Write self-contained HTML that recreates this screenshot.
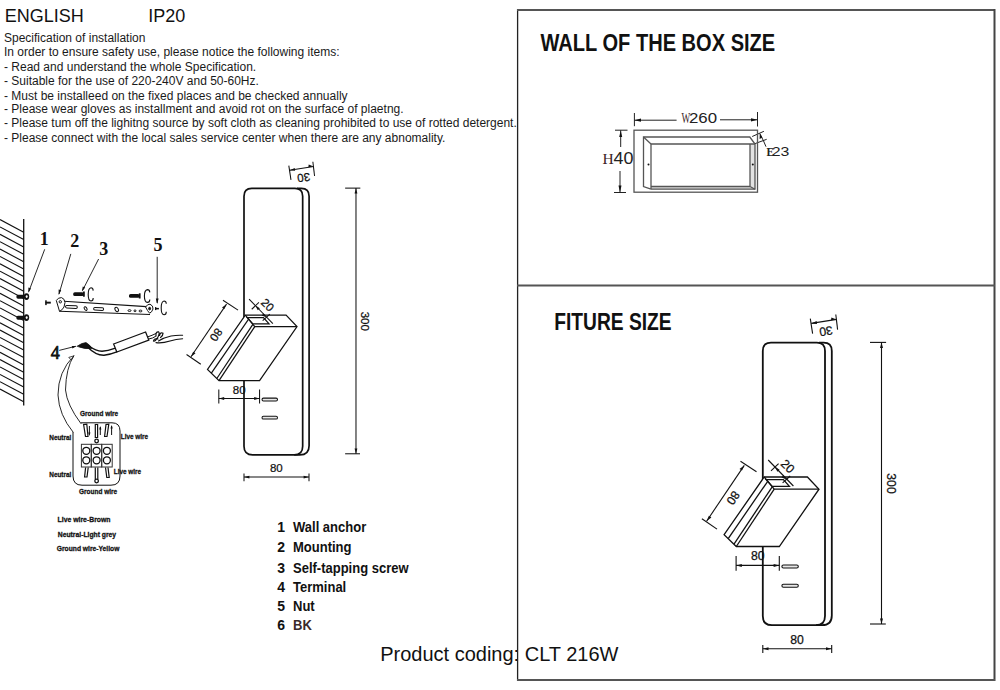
<!DOCTYPE html>
<html><head><meta charset="utf-8">
<style>
html,body{margin:0;padding:0;background:#fff;width:1000px;height:690px;overflow:hidden}
svg{position:absolute;left:0;top:0}
.s{font-family:"Liberation Sans",sans-serif}
.sf{font-family:"Liberation Serif",serif}
</style></head><body>
<svg width="1000" height="690" viewBox="0 0 1000 690">
<rect x="0" y="0" width="1000" height="690" fill="#fff"/>
<!-- header text -->
<g class="s" fill="#111">
<text x="4.8" y="21.6" font-size="18">ENGLISH</text>
<text x="148.3" y="21.6" font-size="18">IP20</text>
<g font-size="12" fill="#1a1a1a">
<text x="4" y="41.5">Specification of installation</text>
<text x="4" y="55.7">In order to ensure safety use, please notice the following items:</text>
<text x="4" y="70.8">- Read and understand the whole Specification.</text>
<text x="4" y="84.7">- Suitable for the use of 220-240V and 50-60Hz.</text>
<text x="4" y="99.7">- Must be installeed on the fixed places and be checked annually</text>
<text x="4" y="113.4">- Please wear gloves as installment and avoid rot on the surface of plaetng.</text>
<text x="4" y="127.1">- Please tum off the lighitng source by soft cloth as cleaning prohibited to use of rotted detergent.</text>
<text x="4" y="142.1">- Please connect with the local sales service center when there are any abnomality.</text>
</g>
</g>

<!-- install diagram -->
<g fill="none" stroke="#111" stroke-width="1.1">
<line x1="23.7" y1="219" x2="23.7" y2="405.5" stroke-width="1.3"/>
<line x1="0" y1="219.6" x2="23.7" y2="232.2"/>
<line x1="0" y1="227.0" x2="23.7" y2="239.6"/>
<line x1="0" y1="234.3" x2="23.7" y2="246.9"/>
<line x1="0" y1="241.7" x2="23.7" y2="254.3"/>
<line x1="0" y1="249.1" x2="23.7" y2="261.7"/>
<line x1="0" y1="256.4" x2="23.7" y2="269.1"/>
<line x1="0" y1="263.8" x2="23.7" y2="276.4"/>
<line x1="0" y1="271.2" x2="23.7" y2="283.8"/>
<line x1="0" y1="278.6" x2="23.7" y2="291.2"/>
<line x1="0" y1="285.9" x2="23.7" y2="298.5"/>
<line x1="0" y1="293.3" x2="23.7" y2="305.9"/>
<line x1="0" y1="300.7" x2="23.7" y2="313.3"/>
<line x1="0" y1="308.0" x2="23.7" y2="320.6"/>
<line x1="0" y1="315.4" x2="23.7" y2="328.0"/>
<line x1="0" y1="322.8" x2="23.7" y2="335.4"/>
<line x1="0" y1="330.1" x2="23.7" y2="342.8"/>
<line x1="0" y1="337.5" x2="23.7" y2="350.1"/>
<line x1="0" y1="344.9" x2="23.7" y2="357.5"/>
<line x1="0" y1="352.3" x2="23.7" y2="364.9"/>
<line x1="0" y1="359.6" x2="23.7" y2="372.2"/>
<line x1="0" y1="367.0" x2="23.7" y2="379.6"/>
<line x1="0" y1="374.4" x2="23.7" y2="387.0"/>
<line x1="0" y1="381.7" x2="23.7" y2="394.3"/>
<line x1="0" y1="389.1" x2="23.7" y2="401.7"/>
</g>
<g class="sf" font-weight="bold" font-size="18" fill="#111">
<text x="39.8" y="244.8">1</text>
<text x="70.3" y="246.5">2</text>
<text x="99.2" y="254.6">3</text>
<text x="50.8" y="359" font-weight="normal" stroke="#111" stroke-width="0.7">4</text>
<text x="153.6" y="251">5</text>
</g>
<g fill="none" stroke="#111" stroke-width="0.9">
<line x1="44.7" y1="249.3" x2="28.8" y2="291.5"/>
<line x1="70.8" y1="253.9" x2="59" y2="294"/>
<line x1="98.6" y1="259" x2="82.5" y2="290.5"/>
<line x1="157.2" y1="256.8" x2="157.2" y2="303"/>
<line x1="59.2" y1="350.4" x2="75.5" y2="346.3"/>
</g>
<g fill="#111">
<polygon points="28.3,292.7 28.4,287.5 31,288.5"/>
<polygon points="58.7,295 58.6,289.6 61.2,290.3"/>
<polygon points="81.9,291.6 82.8,286.4 85.2,287.6"/>
<polygon points="157.2,304 155.8,298.5 158.6,298.5"/>
<polygon points="76.8,346 71.8,345.9 72.4,348.5"/>
<!-- wall screws -->
<rect x="16.4" y="294.8" width="8.5" height="3.9" rx="1.6"/>
<rect x="16.4" y="315.8" width="8.5" height="3.9" rx="1.6"/>
<!-- plate screws -->
<rect x="73.2" y="292.2" width="10.6" height="3.8" rx="1.6"/>
<rect x="83" y="291.5" width="1.8" height="5.2"/>
<rect x="129" y="294" width="10.6" height="3.8" rx="1.6"/>
<rect x="138.8" y="293.3" width="1.8" height="5.2"/>
<rect x="45.2" y="300.3" width="1.5" height="4.8"/><rect x="45.5" y="301.7" width="5.3" height="1.9"/>
<rect x="155" y="307.1" width="1.3" height="3"/><rect x="155.2" y="307.9" width="3.7" height="1.5"/>
</g>
<g fill="#111">
<ellipse cx="26.5" cy="296.6" rx="2.7" ry="3.4"/>
<ellipse cx="26.5" cy="317.6" rx="2.7" ry="3.4"/>
</g>
<g fill="#fff">
<ellipse cx="26.7" cy="296.6" rx="1" ry="1.3"/>
<ellipse cx="26.7" cy="317.6" rx="1" ry="1.3"/>
</g>
<g fill="none" stroke="#111" stroke-width="1">
<path d="M93.2,290.6 Q93.0,287.8 91.0,287.8 Q88.2,288.3 88.2,294.4 Q88.2,300.7 91.0,301 Q93.2,301 93.2,298" stroke-width="1.1"/>
<path d="M149.8,292.40000000000003 Q149.60000000000002,289.6 147.40000000000003,289.6 Q144.4,290.1 144.4,296.0 Q144.4,302.09999999999997 147.40000000000003,302.4 Q149.8,302.4 149.8,299.4" stroke-width="1.1"/>
<path d="M166.3,303.8 Q166.10000000000002,301 164.05,301 Q161.2,301.5 161.2,307.9 Q161.2,314.5 164.05,314.8 Q166.3,314.8 166.3,311.8" stroke-width="1.1"/>
<!-- plate -->
<path d="M63.8,301.2 L146.4,306.6 M59.4,311.2 L150,314.5" stroke-width="1.1"/>
<path d="M56.3,300.5 Q58,297.5 61.5,297.6 Q64.6,298.5 65,302.5 L64,307 Q62,310.5 59.5,311.3 Z" fill="#fff"/>
<circle cx="60.3" cy="301.8" r="1.2"/>
<path d="M145.6,307 Q147.5,304 150,304.2 Q153.4,305.5 153,309 Q151.8,312.5 149.6,313.2 Q147.4,311 145.6,307 Z" fill="#fff"/>
<ellipse cx="149.6" cy="308.6" rx="1" ry="1.3" fill="#111"/>
<rect x="65.5" y="305.6" width="11.8" height="2.6" rx="1.3" transform="rotate(3 71 307)"/>
<ellipse cx="85.6" cy="308.6" rx="1.2" ry="2" transform="rotate(-35 85.6 308.6)"/>
<rect x="93.6" y="307.6" width="10" height="2.6" rx="1.3" transform="rotate(3 98 309)"/>
<ellipse cx="116.7" cy="309.5" rx="1.6" ry="2.3" transform="rotate(-30 116.7 309.5)"/>
<ellipse cx="129.5" cy="310.6" rx="1.5" ry="0.9"/>
<ellipse cx="135" cy="310.8" rx="1" ry="0.9"/>
<ellipse cx="140.5" cy="311" rx="1.5" ry="0.9"/>
</g>
<!-- wires -->
<g fill="none" stroke="#111" stroke-linecap="round">
<path d="M77.5,346 Q82,342.8 86,342.6 Q89.5,344.5 92,348.3 Q86,349.3 80.5,347.4 Z" fill="#111" stroke-width="0.8"/>
<path d="M89,346 Q96,351 102,351.3 Q108,350.8 114.6,348.4" stroke-width="1.5"/>
<path d="M88,347.5 Q96,355.5 104,355.2 Q110,354.6 116.8,351.8" stroke-width="1.4"/>
<polygon points="113.6,344 145.6,332 148.8,340 116.8,352" fill="#fff" stroke-width="1.3"/>
<path d="M148,336.8 Q152,335.5 156,333.5 M148.8,339 Q153,338.3 155.5,336.5" stroke-width="1"/>
<path d="M156,336 Q155.5,331.5 158.5,331.8 Q160,333 158,337 Q155,342 153.5,341 Q154,338 158,339 M159.5,335.5 Q160.5,331.8 163,333.2 Q163,336 160.5,337.5" stroke-width="1.2"/>
<path d="M156,342.6 Q162,343.5 170,341 Q176,339 182.6,338.8 M158.5,341 Q164,337.5 171,336 Q177,335 182.6,335.3" stroke-width="1.1"/>
<!-- curved arrow -->
<path d="M73,432 Q59,415 58,395 Q58,372 73.6,356" stroke-width="0.9"/>
<path d="M80.9,423.5 Q67,405 65.5,390 Q66,368 73.6,356" stroke-width="0.9"/>
<polygon points="73.6,356 68.8,357.4 70.8,359.6" fill="#fff" stroke-width="0.8"/>
</g>
<!-- terminal block -->
<g fill="none" stroke="#111" stroke-width="1">
<path d="M73,432 V476 Q73,485.2 82,485.2 H111 Q120,485.2 120,476 V431 Q120,422.8 112,422.8 H80.9"/>
</g>
<g fill="none" stroke="#111" stroke-width="1">
<rect x="81.4" y="444.3" width="9.9" height="22.7" stroke="#333"/>
<rect x="91.3" y="444.3" width="10.4" height="22.7" stroke="#333"/>
<rect x="101.7" y="444.3" width="10.5" height="22.7" stroke="#333"/>
</g>
<g fill="none" stroke="#111" stroke-width="1.3">
<circle cx="86.3" cy="450.8" r="3.5"/><circle cx="86.3" cy="460.3" r="3.5"/>
<circle cx="96.6" cy="450.8" r="3.5"/><circle cx="96.6" cy="460.3" r="3.5"/>
<circle cx="106.9" cy="450.8" r="3.5"/><circle cx="106.9" cy="460.3" r="3.5"/>
<circle cx="96.6" cy="441" r="1.8"/>
<circle cx="96.6" cy="481" r="1.8"/>
</g>
<g fill="none" stroke="#111" stroke-width="1.2">
<path d="M83.6,424.5 L85.5,436.5 H88 L86.8,424.2 Z"/>
<path d="M95.3,424.5 V437.5 H97.6 V424.5 Z"/>
<path d="M106,424.5 L104.6,436.5 H107 L108.8,424.2 Z"/>
<path d="M85.6,467.5 L84.6,477 H87 L88.2,467.5"/>
<path d="M95.3,467.5 V479 M97.8,467.5 V479"/>
<path d="M105.5,467.5 L106.8,477.5 H109.2 L108,467.5"/>
<path d="M89.4,426 V434.5 M100.3,427 V435 M111.6,426 V435" stroke-width="1"/>
</g>
<g fill="#111">
<polygon points="89.4,436 88.3,432.5 90.5,432.5"/>
<polygon points="100.3,426 99.2,429.5 101.4,429.5"/>
<polygon points="111.6,425 110.5,428.5 112.7,428.5"/>
</g>
<g class="s" font-weight="bold" font-size="7.8" fill="#111" stroke="#111" stroke-width="0.3">
<text transform="translate(80,416.4) scale(0.83,1)">Ground wire</text>
<text transform="translate(49.3,440) scale(0.82,1)">Neutral</text>
<text transform="translate(120.8,438.5) scale(0.82,1)">Live wire</text>
<text transform="translate(49.3,476.5) scale(0.82,1)">Neutral</text>
<text transform="translate(113.8,473.6) scale(0.82,1)">Live wire</text>
<text transform="translate(79,493.8) scale(0.83,1)">Ground wire</text>
<text transform="translate(57.6,522) scale(0.88,1)">Live wire-Brown</text>
<text transform="translate(57.8,536.8) scale(0.87,1)">Neutral-Light grey</text>
<text transform="translate(56.8,551.3) scale(0.86,1)">Ground wire-Yellow</text>
</g>
<!-- parts list -->
<g class="s" font-weight="bold" font-size="14" fill="#111">
<text x="277.2" y="531.9">1</text><text transform="translate(293,531.9) scale(0.93,1)">Wall anchor</text>
<text x="277.2" y="552.4">2</text><text transform="translate(293,552.4) scale(0.93,1)">Mounting</text>
<text x="277.2" y="573">3</text><text transform="translate(293,573) scale(0.93,1)">Self-tapping screw</text>
<text x="277.2" y="591.6">4</text><text transform="translate(293,591.6) scale(0.93,1)">Terminal</text>
<text x="277.2" y="611">5</text><text transform="translate(293,611) scale(0.93,1)">Nut</text>
<text x="277.2" y="630.4">6</text><text transform="translate(293,630.4) scale(0.93,1)" fill="#3b2a2a">BK</text>
</g>
<!-- product coding -->
<text class="s" x="380.2" y="661" font-size="20" fill="#111">Product coding: CLT 216W</text>
<!-- right frame -->
<g fill="none">
<line x1="517.6" y1="9" x2="517.6" y2="681" stroke="#222" stroke-width="1.3"/>
<line x1="517" y1="10" x2="995" y2="10" stroke="#555" stroke-width="2"/>
<line x1="994.5" y1="9" x2="994.5" y2="681" stroke="#444" stroke-width="2"/>
<line x1="517" y1="285.5" x2="995" y2="285.5" stroke="#555" stroke-width="2"/>
<line x1="517" y1="680" x2="995" y2="680" stroke="#555" stroke-width="2"/>
</g>

<!-- box diagram -->
<g fill="none" stroke="#222" stroke-width="1">
<line x1="634.4" y1="113" x2="634.4" y2="126.2"/>
<line x1="757.5" y1="112" x2="757.5" y2="126.5"/>
<line x1="634.4" y1="120.2" x2="676.6" y2="120.2"/>
<line x1="720" y1="119.8" x2="757.5" y2="119.8"/>
<line x1="615" y1="130.2" x2="627.5" y2="130.2"/>
<line x1="614" y1="192.5" x2="626" y2="192.5"/>
<line x1="620.7" y1="130.2" x2="620.7" y2="147"/>
<line x1="620" y1="171" x2="620" y2="192.5"/>
<line x1="752.2" y1="136.5" x2="763.9" y2="131.3"/>
<line x1="754.8" y1="143.7" x2="766.7" y2="139.3"/>
<line x1="759.8" y1="133.5" x2="763.5" y2="140.9"/>
<line x1="763.5" y1="140.9" x2="766" y2="146.7"/>
</g>
<g fill="#111">
<polygon points="634.4,120.2 641,118.6 641,121.8"/>
<polygon points="757.5,119.8 751,118.2 751,121.4"/>
<polygon points="620.7,130.5 619.2,137 622.2,137"/>
<polygon points="620,192.2 618.5,185.6 621.5,185.6"/>
<polygon points="759.8,133.5 759.6,139 762.4,137.6"/>
</g>
<polygon points="651,186.5 750,186.5 755,189.2 651,189.2" fill="#dadada"/>
<polygon points="750,144 755,144 755,189.2 750,186.5" fill="#e2e2e2"/>
<g fill="#111"><circle cx="648.5" cy="164.5" r="1"/><circle cx="752.8" cy="164.5" r="1"/></g>
<g fill="none" stroke="#555" stroke-width="1.3">
<rect x="634" y="130.2" width="123.5" height="62"/>
<polyline points="651,189.2 643.5,186.5 643.5,137 749.8,137 755,144 755,189.2 651,189.2"/>
<line x1="643.5" y1="137" x2="651" y2="144"/>
<line x1="651" y1="144" x2="755" y2="144"/>
<line x1="651" y1="144" x2="651" y2="189"/>
<line x1="750" y1="144" x2="750" y2="186.5"/>
<line x1="651" y1="186.5" x2="750" y2="186.5"/>
<line x1="750" y1="186.5" x2="755" y2="189.2"/>
</g>
<g fill="#222">
<text class="sf" font-size="15" fill="#3a2424" transform="translate(681.6,123) scale(0.62,1)">W</text>
<text class="s" font-size="15.3" transform="translate(689,123) scale(1.1,1)">260</text>
<text class="sf" x="602.5" y="164.3" font-size="15.5" fill="#3a2424">H</text>
<text class="s" font-size="16" transform="translate(613.6,164.3) scale(1.12,1)">40</text>
<text class="sf" font-weight="bold" font-size="13" transform="translate(766.5,155.7) scale(0.85,1)">E</text>
<text class="s" font-size="13" transform="translate(771.8,155.7) scale(1.22,1)">23</text>
</g>

<defs>
<g id="fix">
<g fill="none" stroke="#111" stroke-width="1.8">
<path d="M762.8,616 V351 Q762.8,342.7 771,342.7 H816.8 Q825,342.7 825,351 V616 Q825,625.2 816,625.2 H772 Q762.8,625.2 762.8,616 Z"/>
<path d="M819,342.7 H823.6 Q831.8,342.7 831.8,351 V615.5 Q831.8,625.2 822,625.2 H816"/>
</g>
<g stroke="#111" stroke-width="1.3" fill="#fff" stroke-linejoin="miter">
<polygon points="764.2,477 807.4,477 819,489.2 779.3,546.5 736.3,546.5 724.1,534.6"/>
</g>
<g fill="none" stroke="#111" stroke-width="1.3">
<polyline points="764.2,477 774.2,489.2 819,489.2"/>
<line x1="774.2" y1="489.2" x2="736.3" y2="546.5"/>
<line x1="767.7" y1="481.3" x2="728.2" y2="538.6"/>
<line x1="772.2" y1="486.8" x2="734" y2="544.2"/>
<polygon points="766.2,479.6 783.4,479.6 789.4,486.4 772.2,486.4"/>
<rect x="781.9" y="565" width="16.4" height="3" rx="1.5" fill="#e8e8e8" stroke-width="1.1"/>
<rect x="781.9" y="584.2" width="16.4" height="3" rx="1.5" fill="#e8e8e8" stroke-width="1.1"/>
</g>
<g fill="none" stroke="#111" stroke-width="1.1">
<line x1="810.3" y1="318.6" x2="812.6" y2="333.6"/>
<line x1="835.8" y1="314.5" x2="837.6" y2="329.6"/>
<line x1="811.2" y1="323.4" x2="836.6" y2="319.4"/>
<line x1="870" y1="342.4" x2="886.1" y2="342.4"/>
<line x1="870" y1="624" x2="885.8" y2="624"/>
<line x1="881.5" y1="342.4" x2="881.5" y2="624"/>
<line x1="762.8" y1="645" x2="762.8" y2="653"/>
<line x1="831.7" y1="645" x2="831.7" y2="653"/>
<line x1="762.8" y1="648.7" x2="831.7" y2="648.7"/>
<line x1="736.1" y1="555.9" x2="736.1" y2="570.7"/>
<line x1="779.3" y1="555.9" x2="779.3" y2="570.7"/>
<line x1="736.1" y1="565.4" x2="779.3" y2="565.4"/>
<line x1="740.5" y1="461.3" x2="756.5" y2="471.7"/>
<line x1="701.9" y1="518.8" x2="717" y2="529.1"/>
<line x1="744.3" y1="465.4" x2="706.6" y2="521.2"/>
<line x1="768.2" y1="460" x2="793.4" y2="486"/>
<line x1="771" y1="470.8" x2="778.6" y2="463.6"/>
<line x1="782.6" y1="482.8" x2="790.2" y2="476"/>
</g>
<g fill="#111">
<polygon points="881.5,342.6 880,348 883,348"/>
<polygon points="881.5,623.8 880,618.4 883,618.4"/>
<polygon points="763,648.7 768.5,647.2 768.5,650.2"/>
<polygon points="831.5,648.7 826,647.2 826,650.2"/>
<polygon points="736.3,565.4 741.8,563.9 741.8,566.9"/>
<polygon points="779.1,565.4 773.6,563.9 773.6,566.9"/>
<polygon points="811.3,323.4 816.6,321.1 817,324.1"/>
<polygon points="836.5,319.4 831,320.3 831.4,317.4"/>
<polygon points="744.2,465.5 739.5,468.9 742,470.6"/>
<polygon points="706.7,521.1 708.9,515.8 711.4,517.5"/>
<polygon points="774.8,466.7 777.4,471.8 779.6,469.7"/>
<polygon points="786.4,479.4 781.5,477.4 783.6,475.3"/>
</g>
<g class="s" fill="#111" font-size="12.2" text-anchor="middle" stroke="#111" stroke-width="0.25">
<text transform="translate(825.4,327) rotate(171.5)">30</text>
<text transform="translate(886.8,483.5) rotate(90)">300</text>
<text x="797.1" y="643.8">80</text>
<text x="757.8" y="560.2">80</text>
<text transform="translate(729.8,495.5) rotate(124)">80</text>
<text transform="translate(784.8,469.3) rotate(45)">20</text>
</g>
</g>
</defs>
<use href="#fix"/>
<use href="#fix" transform="translate(244,188.4) scale(0.9434) translate(-762.8,-342.7)"/>
<!-- headings -->
<text class="s" font-weight="bold" font-size="24" fill="#111" transform="translate(540.5,50.6) scale(0.836,1)">WALL OF THE BOX SIZE</text>
<text class="s" font-weight="bold" font-size="24" fill="#111" transform="translate(554.3,329.9) scale(0.80,1)">FITURE SIZE</text>
</svg>
</body></html>
